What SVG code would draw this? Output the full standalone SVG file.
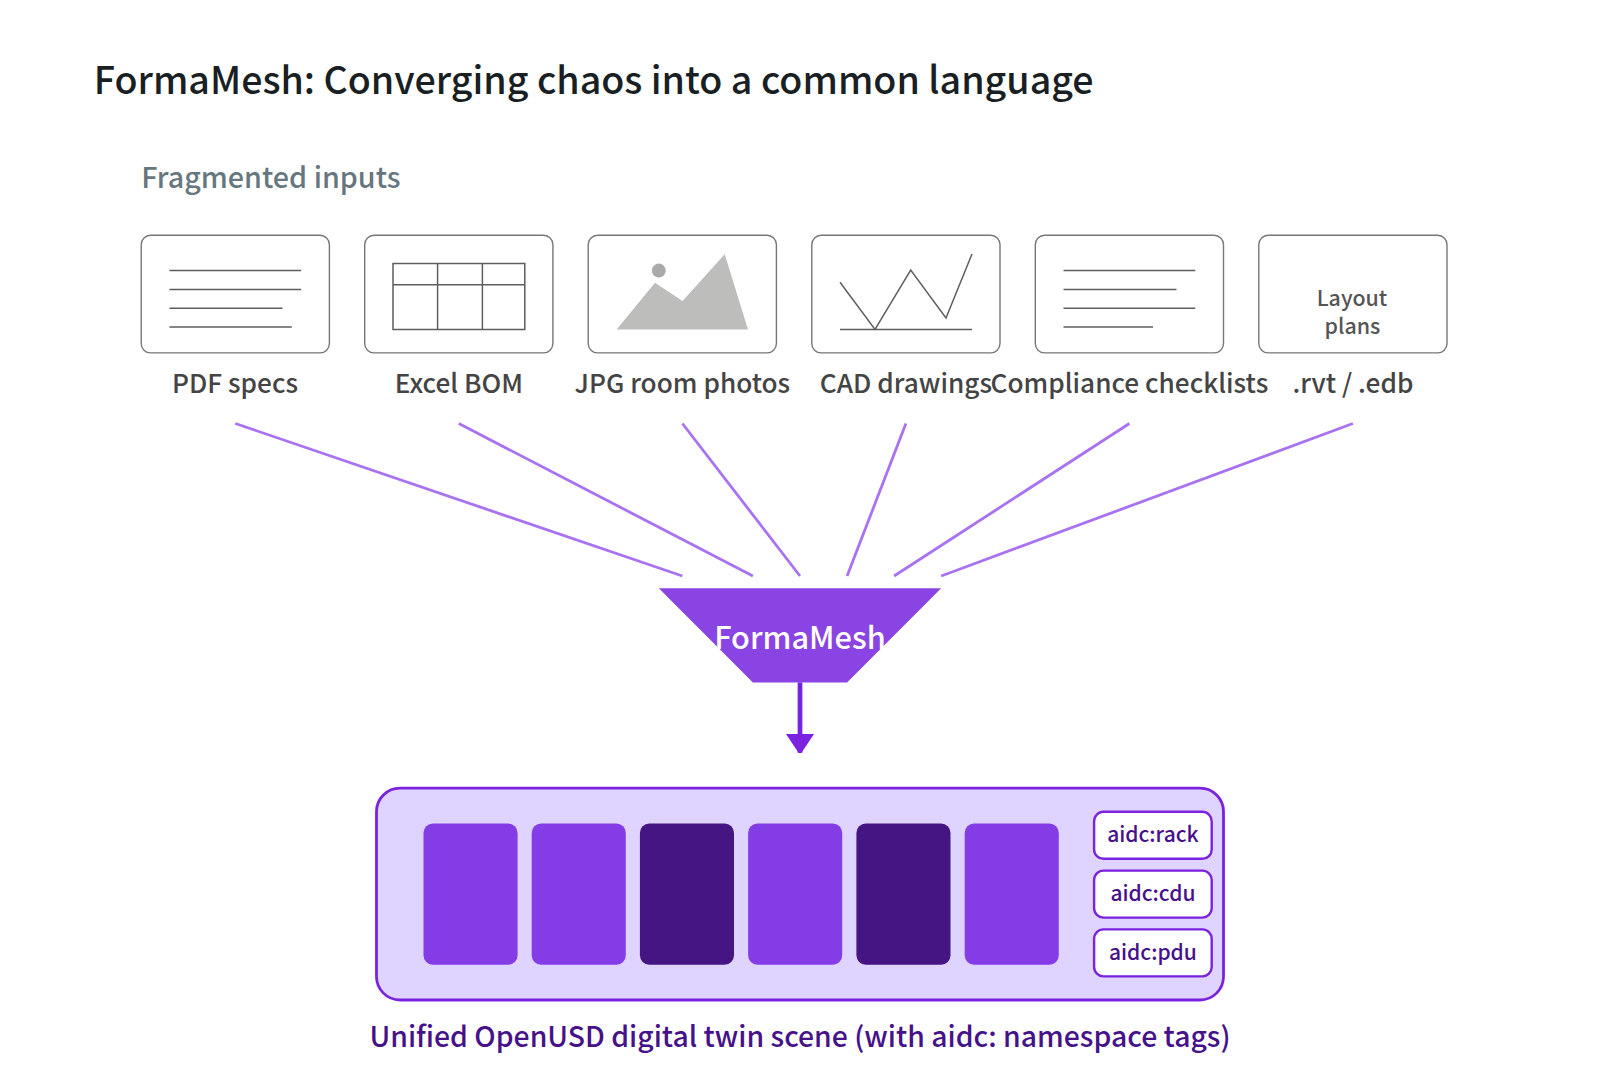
<svg xmlns="http://www.w3.org/2000/svg" width="1600" height="1082" viewBox="0 0 1600 1082">
<style>
text{font-family:"Noto Sans CJK SC","Noto Sans",sans-serif}
.box{fill:#fff;stroke:#777;stroke-width:1.4}
.ln{stroke:#5e5e5e;stroke-width:1.5;fill:none}
.lab{font-size:26.2px;font-weight:500;fill:#444;text-anchor:middle}
.fan{stroke:#a872f0;stroke-width:2.8;fill:none}
.blk{fill:#843ce6}
.drk{fill:#451583}
.tag{fill:#fff;stroke:#7a22de;stroke-width:2.4}
.tt{font-size:21px;font-weight:500;fill:#46128a;text-anchor:middle}
</style>
<defs>
<marker id="ah" viewBox="0 0 19 28" markerUnits="userSpaceOnUse" markerWidth="19" markerHeight="28" refX="18.7" refY="14" orient="auto"><path d="M0,0L21,14L0,28z" fill="#7a22de"/></marker>
</defs>
<rect width="1600" height="1082" fill="#fff"/>
<text id="title" x="93.8" y="94" font-size="37.6" font-weight="500" fill="#1a1f24">FormaMesh: Converging chaos into a common language</text>
<text id="subtitle" x="141.2" y="187.5" font-size="28.7" font-weight="500" fill="#667780">Fragmented inputs</text>
<g id="input-pdf">
<rect class="box" x="141.2" y="235.3" width="188.2" height="117.6" rx="9.4"/>
<path class="ln" d="M169.4 270.6H301.2M169.4 289.4H301.2M169.4 308.2H282.4M169.4 327H291.8"/>
<text class="lab" x="235" y="393">PDF specs</text>
</g>
<g id="input-excel">
<rect class="box" x="364.7" y="235.3" width="188.2" height="117.6" rx="9.4"/>
<path class="ln" d="M393 263.5H524.8V329.4H393zM393 284.7H524.8M437.6 263.5V329.4M482.4 263.5V329.4"/>
<text class="lab" x="458.8" y="393">Excel BOM</text>
</g>
<g id="input-jpg">
<rect class="box" x="588.2" y="235.3" width="188.2" height="117.6" rx="9.4"/>
<polygon points="616.6,329.4 655,282.7 682.5,301 724.7,254.3 748,329.4" fill="#bdbdbb"/>
<circle cx="658.8" cy="270.6" r="7" fill="#aaa"/>
<text class="lab" x="682.4" y="393">JPG room photos</text>
</g>
<g id="input-cad">
<rect class="box" x="811.8" y="235.3" width="188.2" height="117.6" rx="9.4"/>
<path class="ln" d="M840 282.3L875 329.4L910.7 270L946 318L972 254M840 329.4H972"/>
<text class="lab" x="905.9" y="393">CAD drawings</text>
</g>
<g id="input-compliance">
<rect class="box" x="1035.3" y="235.3" width="188.2" height="117.6" rx="9.4"/>
<path class="ln" d="M1063.5 270.6H1195.3M1063.5 289.4H1176.5M1063.5 308.2H1195.3M1063.5 327H1153"/>
<text class="lab" x="1129.4" y="393">Compliance checklists</text>
</g>
<g id="input-rvt">
<rect class="box" x="1258.8" y="235.3" width="188.2" height="117.6" rx="9.4"/>
<text x="1352" y="306" font-size="21.4" font-weight="500" fill="#555" text-anchor="middle">Layout</text>
<text x="1352.5" y="334" font-size="21.4" font-weight="500" fill="#555" text-anchor="middle">plans</text>
<text class="lab" x="1352.9" y="393">.rvt / .edb</text>
</g>
<g id="connectors">
<line class="fan" x1="235.3" y1="423.5" x2="682.4" y2="576"/>
<line class="fan" x1="458.8" y1="423.5" x2="752.9" y2="576"/>
<line class="fan" x1="682.4" y1="423.5" x2="800" y2="576"/>
<line class="fan" x1="905.9" y1="423.5" x2="847.1" y2="576"/>
<line class="fan" x1="1129.4" y1="423.5" x2="894.1" y2="576"/>
<line class="fan" x1="1352.9" y1="423.5" x2="941.2" y2="576"/>
<line x1="800" y1="682.4" x2="800" y2="752.7" stroke="#7a22de" stroke-width="4.7" marker-end="url(#ah)"/>
</g>
<g id="funnel">
<polygon points="658.8,588.2 941.2,588.2 847.1,682.4 752.9,682.4" fill="#8b44e4"/>
<text x="800" y="649" font-size="30.7" font-weight="500" fill="#fff" text-anchor="middle">FormaMesh</text>
</g>
<g id="scene">
<rect x="376.5" y="788.2" width="847" height="211.8" rx="23.5" fill="#dfd3ff" stroke="#7a22de" stroke-width="2.8"/>
<rect class="blk" x="423.5" y="823.5" width="94.1" height="141.2" rx="9.4"/>
<rect class="blk" x="531.7" y="823.5" width="94.1" height="141.2" rx="9.4"/>
<rect class="drk" x="639.9" y="823.5" width="94.1" height="141.2" rx="9.4"/>
<rect class="blk" x="748.1" y="823.5" width="94.1" height="141.2" rx="9.4"/>
<rect class="drk" x="856.4" y="823.5" width="94.1" height="141.2" rx="9.4"/>
<rect class="blk" x="964.7" y="823.5" width="94.1" height="141.2" rx="9.4"/>
</g>
<g id="tag-rack"><rect class="tag" x="1094.1" y="811.8" width="117.6" height="47" rx="9.4"/><text class="tt" x="1152.9" y="842">aidc:rack</text></g>
<g id="tag-cdu"><rect class="tag" x="1094.1" y="870.6" width="117.6" height="47" rx="9.4"/><text class="tt" x="1152.9" y="901">aidc:cdu</text></g>
<g id="tag-pdu"><rect class="tag" x="1094.1" y="929.4" width="117.6" height="47" rx="9.4"/><text class="tt" x="1152.9" y="960">aidc:pdu</text></g>
<text id="caption" x="800" y="1047" font-size="28.37" font-weight="500" fill="#46128a" text-anchor="middle">Unified OpenUSD digital twin scene (with aidc: namespace tags)</text>
</svg>
